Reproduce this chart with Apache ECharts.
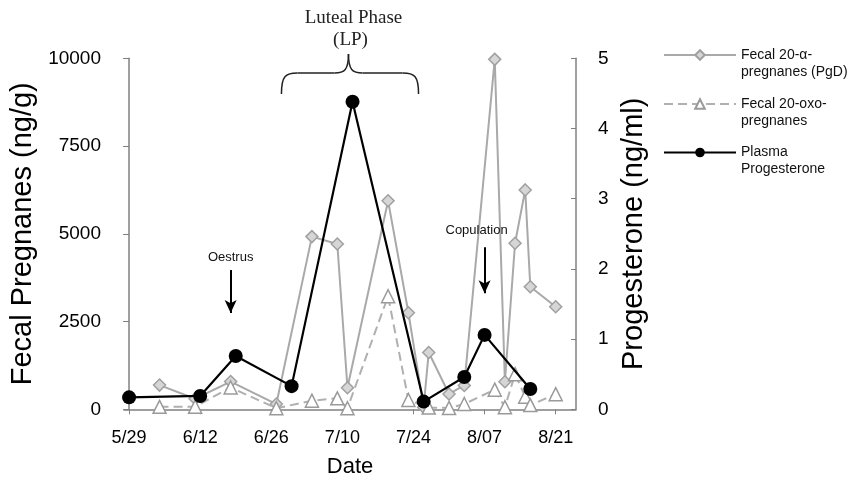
<!DOCTYPE html>
<html><head><meta charset="utf-8">
<script src="https://cdn.jsdelivr.net/npm/echarts@6/dist/echarts.min.js"></script>
<style>html,body{margin:0;padding:0;background:#fff}#c{width:850px;height:479px}</style>
</head><body><div id="c"></div>
<script>
// ---- data ----
const startDate = '5/29';
const tickLabels = ['5/29','6/12','6/26','7/10','7/24','8/07','8/21'];
const pgdDates = ['6/04','6/11','6/18','6/27','7/04','7/09','7/11','7/19','7/23','7/26','7/27','7/31','8/03','8/09','8/11','8/13','8/15','8/16','8/21'];
const pgdValues = [690,300,790,150,4920,4710,615,5940,2750,60,1620,436,680,9970,786,4730,6250,3490,2920];
const oxoDates = ['6/04','6/11','6/18','6/27','7/04','7/09','7/11','7/19','7/23','7/27','7/31','8/03','8/09','8/11','8/13','8/15','8/16','8/21'];
const oxoValues = [70,75,620,30,245,313,30,3220,265,50,40,150,560,60,1000,360,120,430];
const plasmaDates = ['5/29','6/12','6/19','6/30','7/12','7/26','8/03','8/07','8/16'];
const plasmaValues = [0.17,0.19,0.76,0.33,4.38,0.11,0.46,1.06,0.29];
const seriesNames = ['Fecal 20-\u03b1-pregnanes (PgD)','Fecal 20-oxo-pregnanes','Plasma Progesterone'];
const legendTexts = [' \nFecal 20-\u03b1-\npregnanes (PgD)',' \nFecal 20-oxo-\npregnanes',' \nPlasma\nProgesterone'];

// ---- helpers ----
const toDay = s => { const [m,d] = s.split('/').map(Number); const [m0,d0] = startDate.split('/').map(Number);
  return (Date.UTC(2000,m-1,d) - Date.UTC(2000,m0-1,d0)) / 864e5; };
const pairs = (ds, vs) => ds.map((d,i) => [toDay(d), vs[i]]);
const tickDays = tickLabels.map(toDay);
const FONT = 'Liberation Sans, Arial, sans-serif';
const SERIF = 'Liberation Serif, Times New Roman, serif';

const chart = echarts.init(document.getElementById('c'));
const gridRect = {left:124, right:274, top:58.3, bottom:69.7, containLabel:false, outerBoundsMode:'none'};

const legendBase = (name, text, top) => ({
  data:[name], left:663, top:top, padding:0, itemWidth:72, itemHeight:12, itemGap:0,
  formatter: () => text,
  textStyle:{fontFamily:FONT, fontSize:14, lineHeight:17, color:'#111'},
  selectedMode:false
});

chart.setOption({
  animation:false,
  backgroundColor:'#fff',
  grid: gridRect,
  legend: [
    legendBase(seriesNames[0], legendTexts[0], 55-25.5),
    legendBase(seriesNames[1], legendTexts[1], 104-25.5),
    legendBase(seriesNames[2], legendTexts[2], 152.5-25.5)
  ],
  xAxis: {
    type:'value', min:-1, max:88,
    name:'Date', nameLocation:'middle', nameGap:47,
    nameTextStyle:{fontFamily:FONT, fontSize:22, color:'#000'},
    axisLine:{show:true, lineStyle:{color:'#808080', width:1.5}},
    axisTick:{show:true, length:5, customValues:tickDays, lineStyle:{color:'#808080'}},
    axisLabel:{customValues:tickDays, margin:20, fontFamily:FONT, fontSize:18, color:'#000',
      formatter: v => { const i = tickDays.indexOf(v); return i >= 0 ? tickLabels[i] : ''; }},
    splitLine:{show:false}
  },
  yAxis: [
    { type:'value', min:0, max:10000, interval:2500, position:'left',
      name:'Fecal Pregnanes (ng/g)', nameLocation:'middle', nameGap:82, nameRotate:90,
      nameTextStyle:{fontFamily:FONT, fontSize:29, color:'#000'},
      axisLine:{show:true, lineStyle:{color:'#808080', width:1.5}},
      axisTick:{show:true, length:6, lineStyle:{color:'#808080'}},
      axisLabel:{margin:23, fontFamily:FONT, fontSize:19, color:'#000', formatter: v => String(v)},
      splitLine:{show:false} },
    { type:'value', min:0, max:5, interval:1, position:'right',
      name:'Progesterone (ng/ml)', nameLocation:'middle', nameGap:42, nameRotate:90,
      nameTextStyle:{fontFamily:FONT, fontSize:29, color:'#000'},
      axisLine:{show:true, lineStyle:{color:'#808080', width:1.5}},
      axisTick:{show:true, inside:true, length:5, lineStyle:{color:'#808080'}},
      axisLabel:{margin:22, fontFamily:FONT, fontSize:19, color:'#000', formatter: v => String(v)},
      splitLine:{show:false} }
  ],
  series: [
    { name:seriesNames[0], type:'line', yAxisIndex:0, data:pairs(pgdDates,pgdValues),
      symbol:'diamond', symbolSize:12, z:2,
      lineStyle:{color:'#a9a9a9', width:2},
      itemStyle:{color:'#d6d6d6', borderColor:'#a0a0a0', borderWidth:1.5},
      markLine:{ silent:true, symbol:['none','arrow'], symbolSize:[9,13],
        lineStyle:{color:'#000', width:2, type:'solid'},
        label:{show:true, position:'start', fontFamily:FONT, fontSize:13, color:'#111', distance:6},
        data:[
          [{coord:[20,3969], label:{formatter:'Oestrus'}},{coord:[20,2744]}],
          [{coord:[70,4615], label:{formatter:'Copulation', offset:[-8,0], distance:10}},{coord:[70,3305]}]
        ] } },
    { name:seriesNames[1], type:'line', yAxisIndex:0, data:pairs(oxoDates,oxoValues),
      symbol:'triangle', symbolSize:13, z:3,
      lineStyle:{color:'#b0b0b0', width:2, type:[9,5]},
      itemStyle:{color:'#fff', borderColor:'#9a9a9a', borderWidth:1.5} },
    { name:seriesNames[2], type:'line', yAxisIndex:1, data:pairs(plasmaDates,plasmaValues),
      symbol:'circle', symbolSize:14, z:4,
      lineStyle:{color:'#000', width:2.2},
      itemStyle:{color:'#000'} }
  ]
});

// Luteal phase bracket annotation, positioned from the x scale
const px = d => chart.convertToPixel({gridIndex:0}, [d, 0])[0];
const L = px(30), R = px(57), C = px(43.2);
const yE = 94, yH = 73, yP = 54;
const stroke = {fill:'none', stroke:'#222', lineWidth:1.5};
const curve = (x1,y1,cx1,cy1,cx2,cy2,x2,y2) => ({type:'bezierCurve', silent:true,
  shape:{x1,y1,cpx1:cx1,cpy1:cy1,cpx2:cx2,cpy2:cy2,x2,y2}, style:stroke});
chart.setOption({
  graphic:[
    curve(L,yE, L,yH+3, L+4,yH, L+16,yH),
    {type:'line', silent:true, shape:{x1:L+16,y1:yH,x2:C-14,y2:yH}, style:stroke},
    curve(C-14,yH, C-4,yH, C,yH-3, C,yP),
    curve(C,yP, C,yH-3, C+4,yH, C+14,yH),
    {type:'line', silent:true, shape:{x1:C+14,y1:yH,x2:R-16,y2:yH}, style:stroke},
    curve(R-16,yH, R-4,yH, R,yH+3, R,yE),
    { type:'text', silent:true, x:C+5, y:18,
      style:{text:'Luteal Phase', fontFamily:SERIF, fontSize:19, fill:'#222', align:'center', verticalAlign:'middle'} },
    { type:'text', silent:true, x:C+2, y:40,
      style:{text:'(LP)', fontFamily:SERIF, fontSize:19, fill:'#222', align:'center', verticalAlign:'middle'} }
  ]
});
</script>
</body></html>
